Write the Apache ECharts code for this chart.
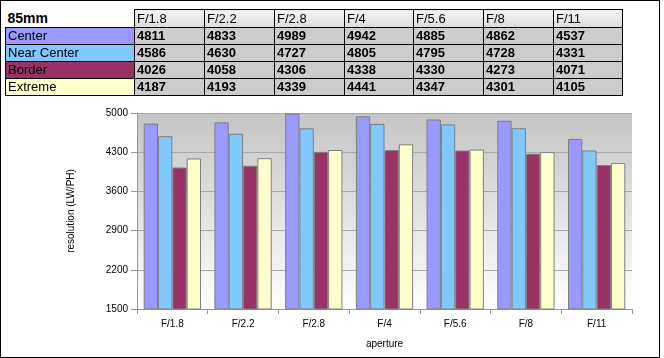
<!DOCTYPE html>
<html>
<head>
<meta charset="utf-8">
<script src="https://cdn.jsdelivr.net/npm/echarts@6/dist/echarts.min.js"></script>
<style>
  html, body { margin:0; padding:0; background:#fff; }
  #wrap { position:relative; width:664px; height:358px; overflow:hidden; font-family:"Liberation Sans", Arial, sans-serif; }
  #chart { position:absolute; left:0; top:0; width:664px; height:358px; }
  #frame { position:absolute; left:0; top:0; width:658px; height:356px; border:1px solid #000; pointer-events:none; }
  #tbl { position:absolute; left:5px; top:9px; border-collapse:collapse; font-size:13px; font-family:"Liberation Sans", Arial, sans-serif; color:#000; }
  #tbl td { border:1px solid #000; padding:0 0 0 2px; height:16px; line-height:16px; white-space:nowrap; overflow:hidden; box-sizing:border-box; }
  #tbl tr { height:17px; }
  #tbl tr.head { height:18px; }
  #tbl tr.head td { height:18px; line-height:17px; background:linear-gradient(#f4f4f4,#dcdcdc); }
  #tbl tr.head td.corner { background:#fff; border-top:none; border-left:none; font-weight:bold; font-size:14px; }
  #tbl td.val { background:#cccccc; font-weight:bold; }
</style>
</head>
<body>
<div id="wrap">
  <div id="chart"></div>
  <table id="tbl"></table>
  <div id="frame"></div>
</div>
<script>
var lensLabel = "85mm";
var categories = ["F/1.8","F/2.2","F/2.8","F/4","F/5.6","F/8","F/11"];
var seriesNames = ["Center","Near Center","Border","Extreme"];
var center     = [4811,4833,4989,4942,4885,4862,4537];
var nearCenter = [4586,4630,4727,4805,4795,4728,4331];
var border     = [4026,4058,4306,4338,4330,4273,4071];
var extreme    = [4187,4193,4339,4441,4347,4301,4105];
var colors = ["#9999FF","#80C8FF","#993366","#FFFFCC"];
var allSeries = [center, nearCenter, border, extreme];

// Build table
var tbl = document.getElementById('tbl');
var colW = [129,70,70,70,69,70,70,69];
var html = '<colgroup>' + colW.map(function(w){return '<col style="width:'+w+'px">';}).join('') + '</colgroup>';
html += '<tr class="head"><td class="corner">' + lensLabel + '</td>' + categories.map(function(c){return '<td>'+c+'</td>';}).join('') + '</tr>';
for (var i=0;i<seriesNames.length;i++){
  html += '<tr><td style="background:'+colors[i]+'">'+seriesNames[i]+'</td>' + allSeries[i].map(function(v){return '<td class="val">'+v+'</td>';}).join('') + '</tr>';
}
tbl.innerHTML = html;
tbl.style.tableLayout = 'fixed';
tbl.style.width = colW.reduce(function(a,b){return a+b;},0) + 'px';

var chart = echarts.init(document.getElementById('chart'), null, {renderer:'canvas'});
var font = '"Liberation Sans", Arial, sans-serif';
chart.setOption({
  animation:false,
  backgroundColor:'#fff',
  grid:{
    left:137, top:113, right:32, bottom:49,
    show:true, borderWidth:0,
    backgroundColor:new echarts.graphic.LinearGradient(0,0,0,1,[{offset:0,color:'#c4c4c4'},{offset:1,color:'#ffffff'}])
  },
  xAxis:{
    type:'category', data:categories,
    name:'aperture', nameLocation:'middle', nameGap:30,
    nameTextStyle:{fontFamily:font, fontSize:10, color:'#000'},
    axisLine:{lineStyle:{color:'#999', width:1}},
    axisTick:{show:true, length:5, lineStyle:{color:'#999'}},
    axisLabel:{fontFamily:font, fontSize:10, color:'#000', margin:10}
  },
  yAxis:{
    type:'value', min:1500, max:5000, interval:700,
    name:'resolution (LW/PH)', nameLocation:'middle', nameRotate:90, nameGap:61,
    nameTextStyle:{fontFamily:font, fontSize:10, color:'#000'},
    axisLine:{show:true, lineStyle:{color:'#999', width:1}},
    axisTick:{show:true, length:6, lineStyle:{color:'#999'}},
    axisLabel:{fontFamily:font, fontSize:10, color:'#000', margin:9, formatter:function(v){return String(v);}},
    splitLine:{show:true, lineStyle:{color:'#aaa', width:1}}
  },
  series: seriesNames.map(function(n,i){
    return {
      name:n, type:'bar', data:allSeries[i],
      barGap:'0%', barCategoryGap:'19%',
      itemStyle:{color:colors[i], borderColor:'#7f7f7f', borderWidth:1}
    };
  })
});
</script>
</body>
</html>
